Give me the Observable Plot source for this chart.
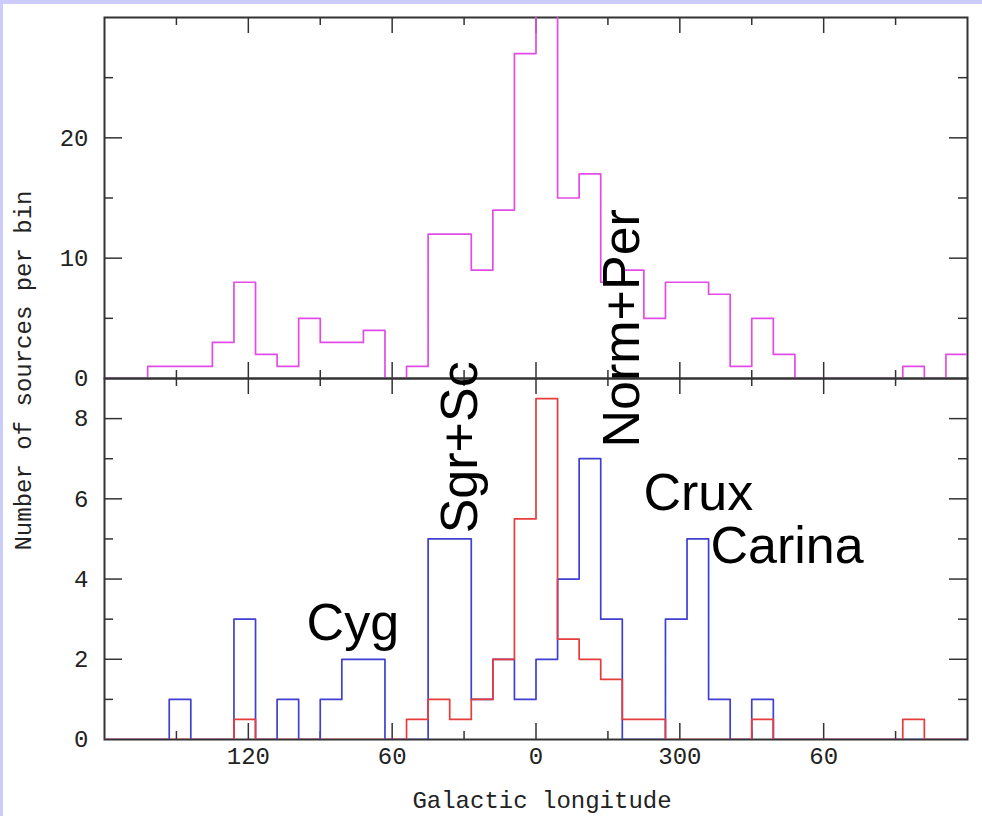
<!DOCTYPE html>
<html>
<head>
<meta charset="utf-8">
<script src="https://cdn.jsdelivr.net/npm/d3@7"></script>
<script src="https://cdn.jsdelivr.net/npm/@observablehq/plot@0.6"></script>
<style>
  html, body { margin: 0; padding: 0; background: #ccccfa; }
  #chart { position: relative; width: 982px; height: 816px; overflow: hidden; }
  #paper { position: absolute; left: 3px; top: 4px; right: 0; bottom: 0; background: #ffffff; }
  #chart svg { position: absolute; left: 0; top: 0; }
</style>
</head>
<body>
<div id="chart"><div id="paper"></div></div>
<script>
// Left edge of each 9-degree longitude bin (l = 180 on the left, through 0, to l = 180 again on the right)
const binStart = [180, 171, 162, 153, 144, 135, 126, 117, 108, 99,
                  90, 81, 72, 63, 54, 45, 36, 27, 18, 9,
                  0, -9, -18, -27, -36, -45, -54, -63, -72, -81,
                  -90, -99, -108, -117, -126, -135, -144, -153, -162, -171];
const binEnd = -180;

// Sources per bin, upper panel (all sources)
const allCounts = [0, 0, 1, 1, 1, 3, 8, 2, 1, 5,
                   3, 3, 4, 0, 1, 12, 12, 9, 14, 27,
                   32, 15, 17, 8, 9, 5, 8, 8, 7, 1,
                   5, 2, 0, 0, 0, 0, 0, 1, 0, 2];

// Sources per bin, lower panel
const blueCounts = [0, 0, 0, 1, 0, 0, 3, 0, 1, 0,
                    1, 2, 2, 0, 0, 5, 5, 1, 2, 1,
                    2, 4, 7, 3, 0, 0, 3, 5, 1, 0,
                    1, 0, 0, 0, 0, 0, 0, 0, 0, 0];
const redCounts = [0, 0, 0, 0, 0, 0, 0.5, 0, 0, 0,
                   0, 0, 0, 0, 0.5, 1, 0.5, 1, 2, 5.5,
                   8.5, 2.5, 2, 1.5, 0.5, 0.5, 0, 0, 0, 0,
                   0.5, 0, 0, 0, 0, 0, 0, 0.5, 0, 0];

// Axis ticks and labels
const xTickMajor = [120, 60, 0, -60, -120];
const xTickLabels = ["120", "60", "0", "300", "60"];
const xTickMinor = [150, 90, 30, -30, -90, -150];
const topTickMajor = [10, 20];
const topTickMinor = [5, 15, 25];
const topTickLabels = [0, 10, 20];
const botTickMajor = [2, 4, 6, 8];
const botTickMinor = [1, 3, 5, 7];
const botTickLabels = [0, 2, 4, 6, 8];

// Spiral-arm annotations in the lower panel (longitude, count, rotation)
const regionNames = ["Cyg", "Sgr+Sc", "Norm+Per", "Crux", "Carina"];
const regionLon = [95.7, 24.8, -42.8, -44.8, -72.8];
const regionCount = [2.49, 5.14, 7.28, 5.71, 4.40];
const regionRotate = [0, -90, -90, 0, 0];

// Layout
const W = 982, H = 816;
const L = 104, R = 15;
const TOP = 17, MID = 378, BOT = 739;
const FW = W - L - R;
const FH = MID - TOP;
const axisFont = "Liberation Mono";
const axisSize = 24;
const ink = "#333";

function steps(counts) {
  const pts = binStart.map((x, i) => ({lon: x, n: counts[i]}));
  pts.push({lon: binEnd, n: counts[counts.length - 1]});
  return pts;
}

function frameTicks(yMaj, yMin) {
  const c = {stroke: ink, strokeWidth: 1.5};
  return [
    Plot.tickX(xTickMajor, {x: d => d, insetTop: FH - 16, ...c}),
    Plot.tickX(xTickMajor, {x: d => d, insetBottom: FH - 16, ...c}),
    Plot.tickX(xTickMinor, {x: d => d, insetTop: FH - 8, ...c}),
    Plot.tickX(xTickMinor, {x: d => d, insetBottom: FH - 8, ...c}),
    Plot.tickY(yMaj, {y: d => d, insetRight: FW - 18, ...c}),
    Plot.tickY(yMaj, {y: d => d, insetLeft: FW - 18, ...c}),
    Plot.tickY(yMin, {y: d => d, insetRight: FW - 9, ...c}),
    Plot.tickY(yMin, {y: d => d, insetLeft: FW - 9, ...c})
  ];
}

const topPanel = Plot.plot({
  width: W, height: H,
  marginLeft: L, marginRight: R, marginTop: TOP, marginBottom: H - MID,
  style: {background: "transparent", color: "#222"},
  x: {domain: [180, -180], axis: null, label: null},
  y: {domain: [0, 30], label: null},
  marks: [
    Plot.frame({stroke: ink, strokeWidth: 2}),
    ...frameTicks(topTickMajor, topTickMinor),
    Plot.line(steps(allCounts), {x: "lon", y: "n", curve: "step-after", stroke: "#e24ce6", strokeWidth: 1.7, clip: true}),
    Plot.axisY(topTickLabels, {tickSize: 0, tickPadding: 16, fontSize: axisSize, fontFamily: axisFont, label: null})
  ]
});

const bottomPanel = Plot.plot({
  width: W, height: H,
  marginLeft: L, marginRight: R, marginTop: MID, marginBottom: H - BOT,
  style: {background: "transparent", color: "#222"},
  x: {domain: [180, -180], label: null},
  y: {domain: [0, 9], label: null},
  marks: [
    Plot.frame({stroke: ink, strokeWidth: 2}),
    ...frameTicks(botTickMajor, botTickMinor),
    Plot.line(steps(blueCounts), {x: "lon", y: "n", curve: "step-after", stroke: "#3f3fd2", strokeWidth: 1.7, clip: true}),
    Plot.line(steps(redCounts), {x: "lon", y: "n", curve: "step-after", stroke: "#e63c3c", strokeWidth: 1.7, clip: true}),
    Plot.axisY(botTickLabels, {tickSize: 0, tickPadding: 16, fontSize: axisSize, fontFamily: axisFont, label: null}),
    Plot.axisX(xTickMajor, {
      tickSize: 0, tickPadding: 7, fontSize: axisSize, fontFamily: axisFont, label: null,
      tickFormat: d => xTickLabels[xTickMajor.indexOf(d)]
    }),
    Plot.text(["Galactic longitude"], {
      frameAnchor: "bottom", dy: 61, dx: 6, lineAnchor: "middle",
      fontSize: axisSize, fontFamily: axisFont, fill: "#222"
    }),
    Plot.text(["Number of sources per bin"], {
      frameAnchor: "top-left", dx: -81, dy: -8, rotate: -90, textAnchor: "middle", lineAnchor: "middle",
      fontSize: axisSize, fontFamily: axisFont, fill: "#222"
    }),
    Plot.text(regionNames, {
      x: (d, i) => regionLon[i], y: (d, i) => regionCount[i], rotate: (d, i) => regionRotate[i],
      text: d => d, textAnchor: "start", lineAnchor: "bottom",
      fontSize: 52, fontFamily: "Liberation Sans", fill: "#000"
    })
  ]
});

const chart = document.getElementById("chart");
chart.appendChild(topPanel);
chart.appendChild(bottomPanel);
</script>
</body>
</html>
